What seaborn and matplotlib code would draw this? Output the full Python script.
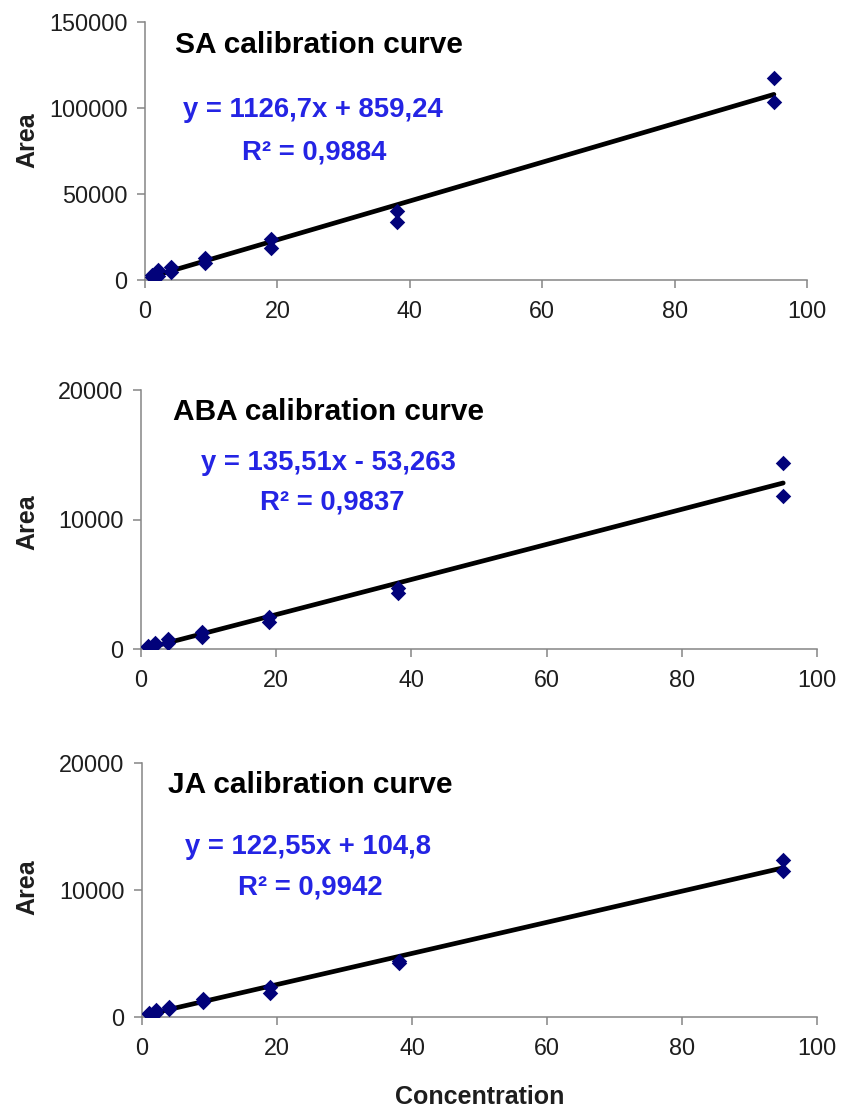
import numpy as np
import pandas as pd
import matplotlib
matplotlib.use("Agg")
import matplotlib.pyplot as plt
import seaborn as sns

# Standard concentrations (each injected in duplicate)
conc = [1, 1, 2, 2, 4, 4, 9, 9, 19, 19, 38, 38, 95, 95]

# Peak areas measured for each hormone
sa_area = [1700, 2800, 2300, 5800, 4700, 7600, 9900, 12800, 18600, 23800, 33700, 40100, 103500, 117400]
aba_area = [150, 230, 310, 450, 460, 770, 930, 1310, 2085, 2470, 4320, 4710, 11810, 14360]
ja_area = [200, 300, 350, 550, 630, 790, 1200, 1420, 1890, 2360, 4250, 4410, 11500, 12360]

titles = ["SA calibration curve", "ABA calibration curve", "JA calibration curve"]
slopes = [1126.7, 135.51, 122.55]
intercepts = [859.24, -53.263, 104.8]
eq_labels = ["y = 1126,7x + 859,24", "y = 135,51x - 53,263", "y = 122,55x + 104,8"]
r2_labels = ["R² = 0,9884", "R² = 0,9837", "R² = 0,9942"]

y_limits = [150000, 20000, 20000]
y_ticks = [[0, 50000, 100000, 150000], [0, 10000, 20000], [0, 10000, 20000]]
x_ticks = [0, 20, 40, 60, 80, 100]

sns.set_theme(style="ticks")
plt.rcParams["font.family"] = ["Liberation Sans", "DejaVu Sans"]

W, H = 842, 1109
fig = plt.figure(figsize=(W / 100, H / 100), dpi=100)

# axes boxes in pixels: left, right, top, bottom
boxes = [(145, 807, 22, 280), (141, 817, 390, 649), (142, 817, 763, 1017)]
title_pos = [(4.5, 136600), (4.7, 18300), (3.85, 18270)]
eq_pos = [(25.4, 98800), (27.8, 14360), (24.6, 13390)]
r2_pos = [(25.5, 74400), (28.3, 11350), (24.9, 10160)]
area_y = [0.54, 0.49, 0.51]

axis_grey = "#858585"
text_dark = "#1e1e1e"
blue = "#2424E4"
navy = "#02027A"

areas = [sa_area, aba_area, ja_area]

for i in range(3):
    l, r, t, b = boxes[i]
    ax = fig.add_axes([l / W, 1 - b / H, (r - l) / W, (b - t) / H])
    df = pd.DataFrame({"Concentration": conc, "Area": areas[i]})

    # least-squares trendline drawn from its stated equation
    xs = np.array([min(conc), max(conc)], dtype=float)
    line_df = pd.DataFrame({"Concentration": xs, "Area": slopes[i] * xs + intercepts[i]})
    sns.lineplot(data=line_df, x="Concentration", y="Area", ax=ax,
                 color="black", linewidth=3.4, zorder=2)
    sns.scatterplot(data=df, x="Concentration", y="Area", ax=ax, marker="D",
                    s=62, color=navy, edgecolor=navy, linewidth=0, zorder=3)

    ax.set_xlim(0, 100)
    ax.set_ylim(0, y_limits[i])
    ax.set_xticks(x_ticks)
    ax.set_yticks(y_ticks[i])
    ax.set_xticklabels([str(v) for v in x_ticks])
    ax.set_yticklabels([str(v) for v in y_ticks[i]])

    for side in ("top", "right"):
        ax.spines[side].set_visible(False)
    for side in ("left", "bottom"):
        ax.spines[side].set_color(axis_grey)
        ax.spines[side].set_linewidth(1.1)
    ax.tick_params(axis="both", direction="out", length=5.5, width=1.1,
                   color=axis_grey, labelsize=16.8, labelcolor=text_dark)
    ax.tick_params(axis="y", pad=7)
    ax.tick_params(axis="x", pad=9)

    ax.set_xlabel("")
    ax.set_ylabel("Area", fontsize=18, fontweight="bold", color=text_dark)
    ax.yaxis.label.set_verticalalignment("center")
    ax.yaxis.set_label_coords((27 - l) / (r - l), area_y[i])

    ax.text(title_pos[i][0], title_pos[i][1], titles[i], fontsize=21.5,
            fontweight="bold", color="black", ha="left", va="center")
    ax.text(eq_pos[i][0], eq_pos[i][1], eq_labels[i], fontsize=19.8,
            fontweight="bold", color=blue, ha="center", va="center")
    ax.text(r2_pos[i][0], r2_pos[i][1], r2_labels[i], fontsize=19.8,
            fontweight="bold", color=blue, ha="center", va="center")

fig.text(480 / W, 1 - 1097 / H, "Concentration", fontsize=18,
         fontweight="bold", color=text_dark, ha="center", va="center")

fig.savefig("out.png", dpi=100, facecolor="white")
